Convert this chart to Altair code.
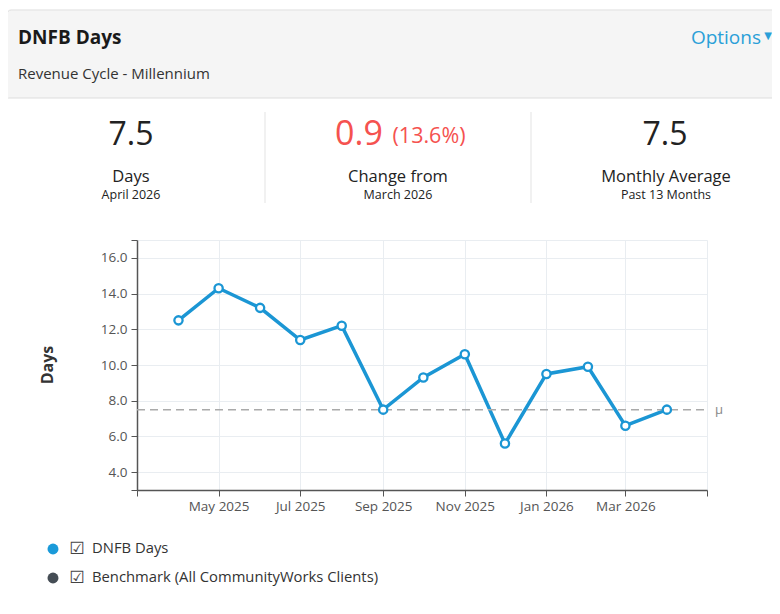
import altair as alt
import pandas as pd

# ---- data ----
months = ["2025-04-01", "2025-05-01", "2025-06-01", "2025-07-01", "2025-08-01",
          "2025-09-01", "2025-10-01", "2025-11-01", "2025-12-01", "2026-01-01",
          "2026-02-01", "2026-03-01", "2026-04-01"]
dnfb_days = [12.5, 14.3, 13.2, 11.4, 12.2, 7.5, 9.3, 10.6, 5.6, 9.5, 9.9, 6.6, 7.5]
monthly_average = 7.5
y_ticks = [3, 4, 6, 8, 10, 12, 14, 16, 17]
legend_labels = ["DNFB Days", "Benchmark (All CommunityWorks Clients)"]
legend_colors = ["#1a9ad9", "#454d55"]

FONT = "Open Sans"
BLUE = "#1b96d4"

df = pd.DataFrame({"month": months, "days": dnfb_days})
mean_df = pd.DataFrame({"mean": [monthly_average], "label": ["μ"]})
one = pd.DataFrame({"k": [0]})

x_scale = alt.Scale(type="utc",
                    domain=[alt.DateTime(year=2025, month=3, date=1, utc=True),
                            alt.DateTime(year=2026, month=5, date=1, utc=True)])
y_scale = alt.Scale(domain=[3, 17], nice=False, zero=False)

x_vals = [alt.DateTime(year=y, month=m, date=1, utc=True)
          for y, m in [(2025, 3), (2025, 5), (2025, 7), (2025, 9), (2025, 11),
                       (2026, 1), (2026, 3), (2026, 5)]]

x_axis = alt.Axis(values=x_vals, title=None,
                  labelExpr="(datum.index == 0 || datum.index == 1) ? '' : utcFormat(datum.value, '%b %Y')",
                  labelOverlap=False,
                  labelFont=FONT, labelFontSize=13.5, labelColor="#555",
                  tickColor="#555", tickSize=6, domainColor="#555", domainWidth=1.5,
                  gridColor="#e9edf1", labelPadding=3)
y_axis = alt.Axis(values=y_ticks, title=None,
                  labelExpr="(datum.value == 3 || datum.value == 17) ? ' ' : format(datum.value, '.1f')",
                  labelOverlap=False, labelSeparation=0,
                  labelFont=FONT, labelFontSize=13.5, labelColor="#555",
                  tickColor="#555", tickSize=6, domainColor="#555", domainWidth=1.5,
                  gridColor="#e9edf1", labelPadding=4)

X = alt.X("month:T", scale=x_scale, axis=x_axis)
Y = alt.Y("days:Q", scale=y_scale, axis=y_axis)

line = alt.Chart(df).mark_line(color=BLUE, strokeWidth=3.5).encode(x=X, y=Y)
points = alt.Chart(df).mark_point(shape="circle", filled=True, fill="white", stroke=BLUE,
                                  strokeWidth=2.3, size=68, opacity=1).encode(x=X, y=Y)
mean_rule = alt.Chart(mean_df).mark_rule(color="#aaaaaa", strokeWidth=1.5,
                                         strokeDash=[8, 5]).encode(
    y=alt.Y("mean:Q", scale=y_scale, axis=y_axis), x=alt.value(0), x2=alt.value(570))
mean_text = alt.Chart(mean_df).mark_text(font=FONT, fontSize=13, color="#888",
                                         align="left").encode(
    y=alt.Y("mean:Q", scale=y_scale, axis=y_axis), x=alt.value(578), text="label:N")


def txt(text, x, y, size, color="#222", weight="normal", align="center", font=FONT, angle=0):
    return alt.Chart(one).mark_text(text=text, font=font, fontSize=size, color=color,
                                    fontWeight=weight, align=align, baseline="middle",
                                    angle=angle).encode(x=alt.value(x), y=alt.value(y))


def rect(x, x2, y, y2, fill, stroke=None, radius=0, fill_opacity=1):
    kw = dict(fill=fill, cornerRadius=radius, fillOpacity=fill_opacity)
    if stroke:
        kw.update(stroke=stroke, strokeWidth=1)
    return alt.Chart(one).mark_rect(**kw).encode(
        x=alt.value(x), x2=alt.value(x2), y=alt.value(y), y2=alt.value(y2))


def vline(x, y, y2, color="#e3e3e3"):
    return alt.Chart(one).mark_rule(color=color, strokeWidth=1).encode(
        x=alt.value(x), y=alt.value(y), y2=alt.value(y2))


def hline(x, x2, y, color="#dddddd"):
    return alt.Chart(one).mark_rule(color=color, strokeWidth=1).encode(
        x=alt.value(x), x2=alt.value(x2), y=alt.value(y))


decor = [
    rect(-129.5, 680, -229.5, -142, "#f5f5f5", radius=3),
    rect(-130, 680, -230, 400, "white", stroke="#dcdcdc", radius=4, fill_opacity=0),
    hline(-130, 680, -142),
    txt("DNFB Days", -119, -202, 19, color="#1a1a1a", weight="bold", align="left"),
    txt("Revenue Cycle - Millennium", -119, -166, 15, color="#333", align="left"),
    txt("Options", 624, -202, 19, color="#2a9fd8", align="right"),
    txt("▼", 631, -204, 10, color="#2a9fd8", font="DejaVu Sans"),
    # KPI row
    txt("7.5", -6, -105, 32, color="#222"),
    txt("0.9", 222, -105, 34, color="#f5524f"),
    txt("(13.6%)", 292, -103, 21.5, color="#f5524f"),
    txt("7.5", 528, -105, 32, color="#222"),
    txt("Days", -6, -63, 16.5, color="#222"),
    txt("April 2026", -6, -45, 12.5, color="#222"),
    txt("Change from", 261, -63, 16.5, color="#222"),
    txt("March 2026", 261, -45, 12.5, color="#222"),
    txt("Monthly Average", 529, -63, 16.5, color="#222"),
    txt("Past 13 Months", 529, -45, 12.5, color="#222"),
    vline(128, -128, -37),
    vline(394, -128, -37),
    # axis title
    txt("Days", -89, 125, 16, color="#333", weight="bold", angle=270),
]

legend_layers = []
for i, (lab, col) in enumerate(zip(legend_labels, legend_colors)):
    yy = 309 + i * 29
    legend_layers.append(alt.Chart(one).mark_point(shape="circle", filled=True, fill=col,
                                                   size=120, opacity=1, strokeWidth=0).encode(
        x=alt.value(-84), y=alt.value(yy)))
    legend_layers.append(txt("☑", -60, yy, 17, color="#444", font="DejaVu Sans"))
    legend_layers.append(txt(lab, -45, yy, 14.8, color="#333", align="left"))

chart = alt.layer(*decor, line, mean_rule, mean_text, points, *legend_layers).properties(
    width=570, height=250,
    autosize=alt.AutoSizeParams(type="none"),
    padding={"left": 129, "top": 232, "right": 65, "bottom": 104},
    background="white",
).configure_view(stroke=None).configure_axis(labelOverlap=False)

chart.save("out.html", embed_options={"renderer": "svg", "actions": False})
